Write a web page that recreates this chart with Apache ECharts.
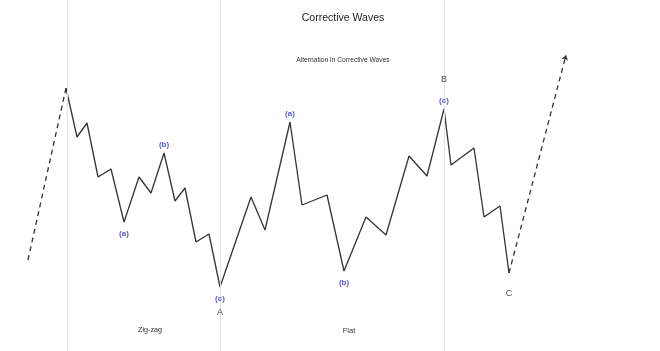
<!DOCTYPE html>
<html>
<head>
<meta charset="utf-8">
<script src="https://cdn.jsdelivr.net/npm/echarts@6/dist/echarts.min.js"></script>
<style>
  html, body { margin: 0; padding: 0; background: #fff; }
  #chart { width: 660px; height: 351px; }
</style>
</head>
<body>
<div id="chart"></div>
<script>
// wave path (time, price)
const waveX = [66, 77, 87, 98, 111, 124, 139, 151, 164, 175, 185, 196, 209, 220,
  251, 265, 290, 302, 327, 344, 366, 386, 409, 427, 444, 451, 474, 484, 500, 509]
const waveY = [263, 214, 228, 174, 182, 129, 174, 158, 198, 150, 163, 109, 117, 64,
  154, 121, 229, 146, 156, 80, 134, 116, 195, 175, 242, 186, 203, 134, 145, 78]

// dashed legs before and after the pattern
const leadX = [28, 66]
const leadY = [91, 263]
const nextX = [509, 566]
const nextY = [78, 296]

// wave labels
const labelIndex = [5, 8, 13, 16, 19, 24, 29]
const waveLabel = ['(a)', '(b)', '(c)', '(a)', '(b)', '(c)', '']
const degreeLabel = ['', '', 'A', '', '', 'B', 'C']

// section dividers
const dividerX = [67, 220, 444]

const font = '"Liberation Sans", Arial, sans-serif'

const labelData = labelIndex.map((i, k) => {
  const peak = waveY[i] > waveY[i - 1]
  const w = waveLabel[k]
  const d = degreeLabel[k]
  let text
  if (peak) {
    text = [d ? '{dTop|' + d + '}' : '', w ? '{w|' + w + '}' : ''].filter(Boolean).join('\n')
  } else {
    text = [w ? '{w|' + w + '}' : '', d ? '{dBot|' + d + '}' : ''].filter(Boolean).join('\n')
  }
  return {
    value: [waveX[i], waveY[i]],
    label: {
      show: true,
      position: peak ? 'top' : 'bottom',
      distance: peak ? 1 : (w ? 4 : 13),
      formatter: text
    }
  }
})

const chart = echarts.init(document.getElementById('chart'))
chart.setOption({
  animation: false,
  backgroundColor: '#fff',
  title: [
    {
      text: 'Corrective Waves',
      left: 338, top: 8, textAlign: 'center',
      textStyle: { fontFamily: font, fontSize: 10.5, fontWeight: 'normal', color: '#1a1a1a' }
    },
    {
      text: 'Alternation in Corrective Waves',
      left: 338, top: 52, textAlign: 'center',
      textStyle: { fontFamily: font, fontSize: 6.7, fontWeight: 'normal', color: '#333' }
    },
    {
      text: 'Zig-zag',
      left: 145, top: 322, textAlign: 'center',
      textStyle: { fontFamily: font, fontSize: 7.2, fontWeight: 'normal', color: '#333' }
    },
    {
      text: 'Flat',
      left: 344, top: 322, textAlign: 'center',
      textStyle: { fontFamily: font, fontSize: 7.5, fontWeight: 'normal', color: '#333' }
    }
  ],
  grid: { left: 0, right: 0, top: 0, bottom: 0 },
  xAxis: { type: 'value', min: 0, max: 660, show: false },
  yAxis: { type: 'value', min: 0, max: 351, show: false },
  series: [
    {
      type: 'line',
      data: waveX.map((x, i) => [x, waveY[i]]),
      showSymbol: false,
      lineStyle: { color: '#333', width: 1.3 },
      markLine: {
        silent: true,
        symbol: 'none',
        label: { show: false },
        lineStyle: { color: '#e2e2e2', width: 1, type: 'solid' },
        data: dividerX.map(x => ({ xAxis: x }))
      },
      z: 3
    },
    {
      type: 'lines',
      coordinateSystem: 'cartesian2d',
      symbol: ['none', 'none'],
      lineStyle: { color: '#333', width: 1.3, type: [5, 4], opacity: 1 },
      data: [{ coords: leadX.map((x, i) => [x, leadY[i]]) }]
    },
    {
      type: 'lines',
      coordinateSystem: 'cartesian2d',
      symbol: ['none', 'arrow'],
      symbolSize: 5,
      lineStyle: { color: '#333', width: 1.3, type: [5, 4], opacity: 1 },
      data: [{ coords: nextX.map((x, i) => [x, nextY[i]]) }]
    },
    {
      type: 'scatter',
      data: labelData,
      symbolSize: 1,
      itemStyle: { color: 'rgba(0,0,0,0)' },
      label: {
        fontFamily: font,
        rich: {
          w: { color: '#2a2ac4', fontWeight: 'bold', fontSize: 8, lineHeight: 14, fontFamily: font },
          dTop: { color: '#111', fontSize: 9, lineHeight: 28, fontFamily: font },
          dBot: { color: '#111', fontSize: 9, lineHeight: 14, fontFamily: font }
        }
      },
      z: 5
    }
  ]
})
</script>
</body>
</html>
